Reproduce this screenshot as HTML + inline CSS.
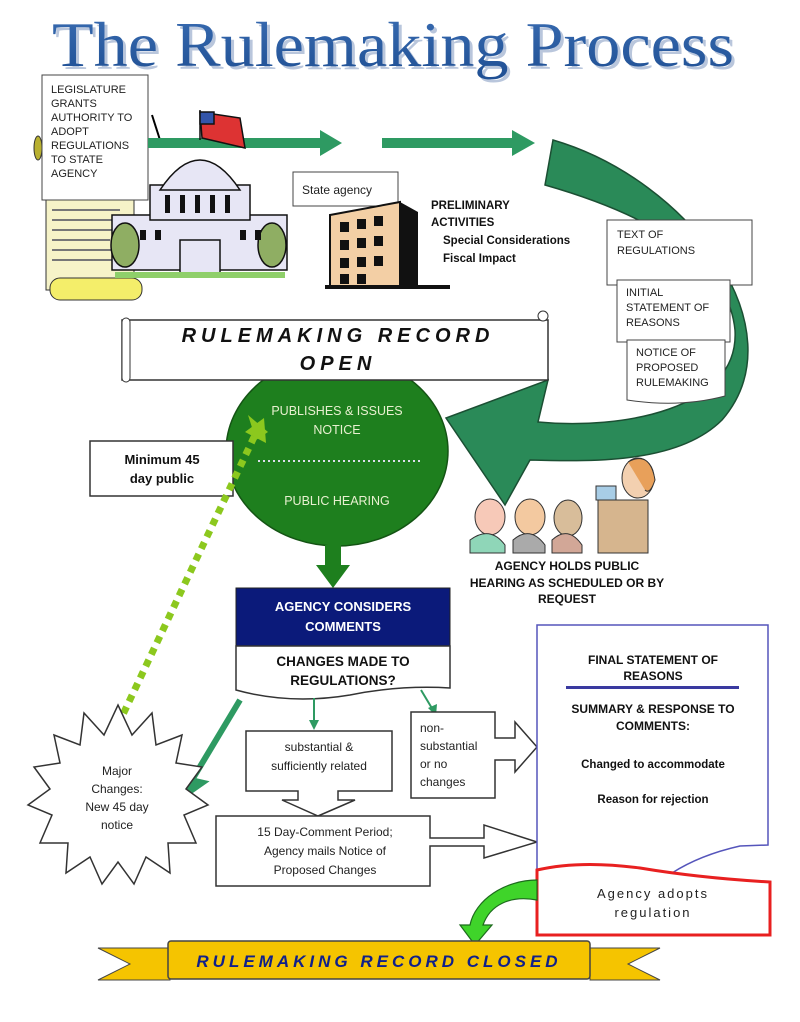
<!DOCTYPE html>
<html><head><meta charset="utf-8"><style>
html,body{margin:0;padding:0;background:#fff;}
svg{display:block;font-family:"Liberation Sans",sans-serif;}
</style></head><body>
<svg width="800" height="1022" viewBox="0 0 800 1022" xmlns="http://www.w3.org/2000/svg">
<defs>
<linearGradient id="ttl" x1="0" y1="0" x2="0" y2="1"><stop offset="0" stop-color="#3a6db3"/><stop offset="1" stop-color="#1f4f93"/></linearGradient>
</defs>
<rect width="800" height="1022" fill="#fff"/>
<!-- Title -->
<text x="52" y="66" textLength="682" lengthAdjust="spacingAndGlyphs" font-family="Liberation Serif,serif" font-size="64" fill="#b9c6dc" transform="translate(3,3)">The Rulemaking Process</text>
<text x="52" y="66" textLength="682" lengthAdjust="spacingAndGlyphs" font-family="Liberation Serif,serif" font-size="64" fill="url(#ttl)">The Rulemaking Process</text>

<!-- scroll -->
<rect x="46" y="195" width="88" height="95" fill="#f6f3c8" stroke="#333"/>
<g stroke="#777" stroke-width="2">
<line x1="52" y1="210" x2="120" y2="210"/><line x1="52" y1="220" x2="115" y2="220"/><line x1="52" y1="230" x2="122" y2="230"/><line x1="52" y1="240" x2="110" y2="240"/><line x1="52" y1="250" x2="118" y2="250"/><line x1="52" y1="260" x2="112" y2="260"/>
</g>
<rect x="50" y="278" width="92" height="22" rx="10" fill="#f4ee6a" stroke="#333"/>
<ellipse cx="38" cy="148" rx="4" ry="12" fill="#b8b030" stroke="#333"/>
<rect x="42" y="75" width="106" height="125" fill="#fff" stroke="#444"/>
<text font-size="11" fill="#222"><tspan x="51" y="93">LEGISLATURE</tspan><tspan x="51" y="107">GRANTS</tspan><tspan x="51" y="121">AUTHORITY TO</tspan><tspan x="51" y="135">ADOPT</tspan><tspan x="51" y="149">REGULATIONS</tspan><tspan x="51" y="163">TO STATE</tspan><tspan x="51" y="177">AGENCY</tspan></text>
<line x1="152" y1="115" x2="160" y2="140" stroke="#000" stroke-width="2"/>

<!-- arrows top -->
<path d="M148 138 H320 V130 L342 143 L320 156 V148 H148 Z" fill="#2e9a62"/>
<path d="M382 138 H512 V130 L535 143 L512 156 V148 H382 Z" fill="#2e9a62"/>

<!-- capitol -->
<g stroke="#111" stroke-width="1.5">
<rect x="112" y="215" width="175" height="55" fill="#e7e6f5"/>
<rect x="150" y="185" width="100" height="35" fill="#e7e6f5"/>
<path d="M160 190 Q200 130 240 190 Z" fill="#e7e6f5"/>
<rect x="180" y="240" width="40" height="35" fill="#e7e6f5"/>
<ellipse cx="125" cy="245" rx="14" ry="22" fill="#8fae63"/>
<ellipse cx="272" cy="245" rx="14" ry="22" fill="#8fae63"/>
<line x1="200" y1="140" x2="200" y2="110"/>
<path d="M200 112 L240 118 L245 148 L202 138 Z" fill="#d33" />
<rect x="200" y="112" width="14" height="12" fill="#3355aa"/>
</g>
<g fill="#111"><rect x="165" y="195" width="5" height="18"/><rect x="180" y="195" width="5" height="18"/><rect x="195" y="195" width="5" height="18"/><rect x="210" y="195" width="5" height="18"/><rect x="225" y="195" width="5" height="18"/><rect x="140" y="230" width="6" height="10"/><rect x="155" y="230" width="6" height="10"/><rect x="240" y="230" width="6" height="10"/><rect x="255" y="230" width="6" height="10"/></g>
<rect x="115" y="272" width="170" height="6" fill="#8fcf6a"/>

<!-- state agency / building -->
<rect x="293" y="172" width="105" height="34" fill="#fff" stroke="#444"/>
<text x="302" y="194" font-size="12" fill="#222">State agency</text>
<path d="M330 215 L400 202 L400 287 L330 287 Z" fill="#f3cfa5" stroke="#111" stroke-width="2"/>
<path d="M400 202 L418 212 L418 287 L400 287 Z" fill="#111"/>
<rect x="325" y="285" width="125" height="4" fill="#111"/>
<g fill="#111">
<rect x="340" y="222" width="9" height="10"/><rect x="357" y="219" width="9" height="10"/><rect x="374" y="216" width="9" height="10"/>
<rect x="340" y="240" width="9" height="10"/><rect x="357" y="238" width="9" height="10"/><rect x="374" y="236" width="9" height="10"/>
<rect x="340" y="258" width="9" height="10"/><rect x="357" y="257" width="9" height="10"/><rect x="374" y="256" width="9" height="10"/>
<rect x="340" y="274" width="9" height="10"/><rect x="357" y="274" width="9" height="10"/>
</g>
<text font-size="11.5" font-weight="bold" fill="#111"><tspan x="431" y="209">PRELIMINARY</tspan><tspan x="431" y="226">ACTIVITIES</tspan><tspan x="443" y="244">Special Considerations</tspan><tspan x="443" y="262">Fiscal Impact</tspan></text>

<!-- big curved arrow -->
<path d="M553 140 C690 180 800 330 722 420 C680 462 600 462 530 460 L505 505 L446 418 L548 380 L538 422 C620 430 740 410 735 330 C728 260 650 215 545 185 Z" fill="#2a8a58" stroke="#1b4f33" stroke-width="1.5"/>

<!-- docs -->
<rect x="607" y="220" width="145" height="65" fill="#fff" stroke="#444"/>
<text font-size="11" fill="#222"><tspan x="617" y="238">TEXT OF</tspan><tspan x="617" y="254">REGULATIONS</tspan></text>
<rect x="617" y="280" width="113" height="62" fill="#fff" stroke="#444"/>
<text font-size="11" fill="#222"><tspan x="626" y="296">INITIAL</tspan><tspan x="626" y="311">STATEMENT OF</tspan><tspan x="626" y="326">REASONS</tspan></text>
<path d="M627 340 H725 V396 Q680 408 627 400 Z" fill="#fff" stroke="#444"/>
<text font-size="11" fill="#222"><tspan x="636" y="356">NOTICE OF</tspan><tspan x="636" y="371">PROPOSED</tspan><tspan x="636" y="386">RULEMAKING</tspan></text>

<!-- green circle -->
<ellipse cx="337" cy="451" rx="111" ry="95" fill="#1e7f1e" stroke="#145414" stroke-width="1.5"/>
<path d="M325 545 V565 H316 L333 588 L350 565 H341 V545 Z" fill="#1e7f1e"/>

<!-- scroll open -->
<path d="M122 320 H548 V380 H122 Z" fill="#fff" stroke="#333" stroke-width="1.5"/>
<rect x="122" y="318" width="8" height="64" rx="4" fill="#fff" stroke="#333"/>
<circle cx="543" cy="316" r="5" fill="#fff" stroke="#333"/>
<text x="338" y="342" text-anchor="middle" font-size="20" font-weight="bold" font-style="italic" fill="#111" letter-spacing="5">RULEMAKING RECORD</text>
<text x="338" y="370" text-anchor="middle" font-size="20" font-weight="bold" font-style="italic" fill="#111" letter-spacing="5">OPEN</text>

<text x="337" y="415" text-anchor="middle" font-size="12.5" fill="#e8f0d0">PUBLISHES &amp; ISSUES</text>
<text x="337" y="434" text-anchor="middle" font-size="12.5" fill="#e8f0d0">NOTICE</text>
<line x1="258" y1="461" x2="420" y2="461" stroke="#dde" stroke-width="2" stroke-dasharray="2,3"/>
<text x="337" y="505" text-anchor="middle" font-size="12.5" fill="#e8f0d0">PUBLIC HEARING</text>

<!-- minimum box -->
<rect x="90" y="441" width="143" height="55" fill="#fff" stroke="#333" stroke-width="1.5"/>
<text x="162" y="464" text-anchor="middle" font-size="13" font-weight="bold" fill="#111">Minimum 45</text>
<text x="162" y="483" text-anchor="middle" font-size="13" font-weight="bold" fill="#111">day public</text>

<!-- dotted -->
<line x1="118" y1="725" x2="255" y2="435" stroke="#8cc81e" stroke-width="7" stroke-dasharray="7,6"/>
<path d="M248 415 L268 432 L256 440 Z" fill="#8cc81e"/>
<path d="M264 418 L266 443 L245 432 Z" fill="#8cc81e"/>

<!-- people -->
<g stroke="#333" stroke-width="1">
<ellipse cx="490" cy="517" rx="15" ry="18" fill="#f7c9b8"/><path d="M470 540 Q490 525 505 545 V553 H470 Z" fill="#8fd6b8"/>
<ellipse cx="530" cy="517" rx="15" ry="18" fill="#f3c9a0"/><path d="M513 540 Q530 525 545 545 V553 H513 Z" fill="#aaa"/>
<ellipse cx="568" cy="518" rx="14" ry="18" fill="#d8bd9a"/><path d="M552 540 Q568 525 582 545 V553 H552 Z" fill="#d2a797"/>
<rect x="598" y="500" width="50" height="53" fill="#d6b58e"/>
<ellipse cx="638" cy="478" rx="16" ry="20" fill="#f3d0b0"/><path d="M628 462 Q650 450 655 480 Q650 495 645 490" fill="#e8a05a"/>
<rect x="596" y="486" width="20" height="14" fill="#a8cde6"/>
</g>
<text text-anchor="middle" font-size="12" font-weight="bold" fill="#111"><tspan x="567" y="570">AGENCY HOLDS PUBLIC</tspan><tspan x="567" y="587">HEARING AS SCHEDULED OR BY</tspan><tspan x="567" y="603">REQUEST</tspan></text>

<!-- agency considers -->
<rect x="236" y="588" width="214" height="58" fill="#0b1a7a" stroke="#222"/>
<text x="343" y="611" text-anchor="middle" font-size="13" font-weight="bold" fill="#fff">AGENCY CONSIDERS</text>
<text x="343" y="631" text-anchor="middle" font-size="13" font-weight="bold" fill="#fff">COMMENTS</text>
<path d="M236 646 H450 V688 Q400 685 350 695 Q290 705 236 690 Z" fill="#fff" stroke="#333" stroke-width="1.5"/>
<text x="343" y="666" text-anchor="middle" font-size="13.5" font-weight="bold" fill="#111">CHANGES MADE TO</text>
<text x="343" y="685" text-anchor="middle" font-size="13.5" font-weight="bold" fill="#111">REGULATIONS?</text>

<!-- branch arrows -->
<line x1="240" y1="700" x2="192" y2="780" stroke="#2e9a62" stroke-width="6"/>
<path d="M180 776 L186 796 L206 782 Z" fill="#2e9a62" stroke="#2e9a62" stroke-width="3"/>
<line x1="314" y1="698" x2="314" y2="722" stroke="#2e9a62" stroke-width="2"/>
<path d="M309 720 L314 730 L319 720 Z" fill="#2e9a62"/>
<line x1="421" y1="690" x2="433" y2="710" stroke="#2e9a62" stroke-width="2"/>
<path d="M428 708 L436 716 L437 704 Z" fill="#2e9a62"/>

<!-- starburst -->
<polygon fill="#fff" stroke="#333" stroke-width="1.5" points="
118,705 132,735 152,713 156,745 182,735 176,763 202,767 186,789 208,805 184,815 196,843 168,843 170,873 146,857 134,884 118,862 102,884 90,857 66,873 68,843 40,843 52,815 28,805 50,789 34,767 60,763 54,735 80,745 84,713 104,735"/>
<text text-anchor="middle" font-size="12" fill="#222"><tspan x="117" y="775">Major</tspan><tspan x="117" y="793">Changes:</tspan><tspan x="117" y="811">New 45 day</tspan><tspan x="117" y="829">notice</tspan></text>

<!-- substantial -->
<path d="M246 731 H392 V791 H338 V800 H355 L318 816 L282 800 H298 V791 H246 Z" fill="#fff" stroke="#333" stroke-width="1.5"/>
<text text-anchor="middle" font-size="12" fill="#222"><tspan x="319" y="751">substantial &amp;</tspan><tspan x="319" y="770">sufficiently related</tspan></text>
<!-- 15 day -->
<path d="M216 816 H430 V838 H484 V825 L537 842 L484 858 V846 H430 V886 H216 Z" fill="#fff" stroke="#333" stroke-width="1.5"/>
<text text-anchor="middle" font-size="12" fill="#222"><tspan x="325" y="836">15 Day-Comment Period;</tspan><tspan x="325" y="855">Agency mails Notice of</tspan><tspan x="325" y="874">Proposed Changes</tspan></text>
<!-- non-substantial -->
<path d="M411 712 H495 V738 H515 V722 L537 747 L515 772 V760 H495 V798 H411 Z" fill="#fff" stroke="#333" stroke-width="1.5"/>
<text font-size="12" fill="#222"><tspan x="420" y="732">non-</tspan><tspan x="420" y="750">substantial</tspan><tspan x="420" y="768">or no</tspan><tspan x="420" y="786">changes</tspan></text>

<!-- final statement doc -->
<path d="M537 625 H768 V845 L740 846 Q700 855 672 873 L537 875 Z" fill="#fff" stroke="#5555bb" stroke-width="1.5"/>
<text text-anchor="middle" font-size="12" font-weight="bold" fill="#111"><tspan x="653" y="664">FINAL STATEMENT OF</tspan><tspan x="653" y="680">REASONS</tspan></text>
<rect x="566" y="686" width="173" height="3" fill="#3a3aa0"/>
<text text-anchor="middle" font-size="12" font-weight="bold" fill="#111"><tspan x="653" y="713">SUMMARY &amp; RESPONSE TO</tspan><tspan x="653" y="730">COMMENTS:</tspan><tspan x="653" y="768" font-size="11.5">Changed to accommodate</tspan><tspan x="653" y="803" font-size="11.5">Reason for rejection</tspan></text>

<!-- adopts -->
<path d="M537 870 Q580 860 640 868 Q700 878 770 882 V935 H537 Z" fill="#fff" stroke="#e82020" stroke-width="3"/>
<text x="653" y="898" text-anchor="middle" font-size="13" fill="#222" letter-spacing="2">Agency adopts</text>
<text x="653" y="917" text-anchor="middle" font-size="13" fill="#222" letter-spacing="2">regulation</text>

<!-- green curve arrow -->
<path d="M537 880 C505 880 475 900 470 925 L460 925 L475 945 L492 925 L483 925 C490 905 510 895 537 900 Z" fill="#3fd42a" stroke="#1d6b1d" stroke-width="1.2"/>

<!-- closed banner -->
<polygon points="98,948 170,948 170,980 98,980 130,964" fill="#f5c400" stroke="#444"/>
<polygon points="660,948 590,948 590,980 660,980 628,964" fill="#f5c400" stroke="#444"/>
<rect x="168" y="941" width="422" height="38" rx="3" fill="#f5c400" stroke="#444" stroke-width="1.5"/>
<text x="379" y="967" text-anchor="middle" font-size="17" font-weight="bold" font-style="italic" fill="#10208a" letter-spacing="4">RULEMAKING RECORD CLOSED</text>
</svg>
</body></html>
